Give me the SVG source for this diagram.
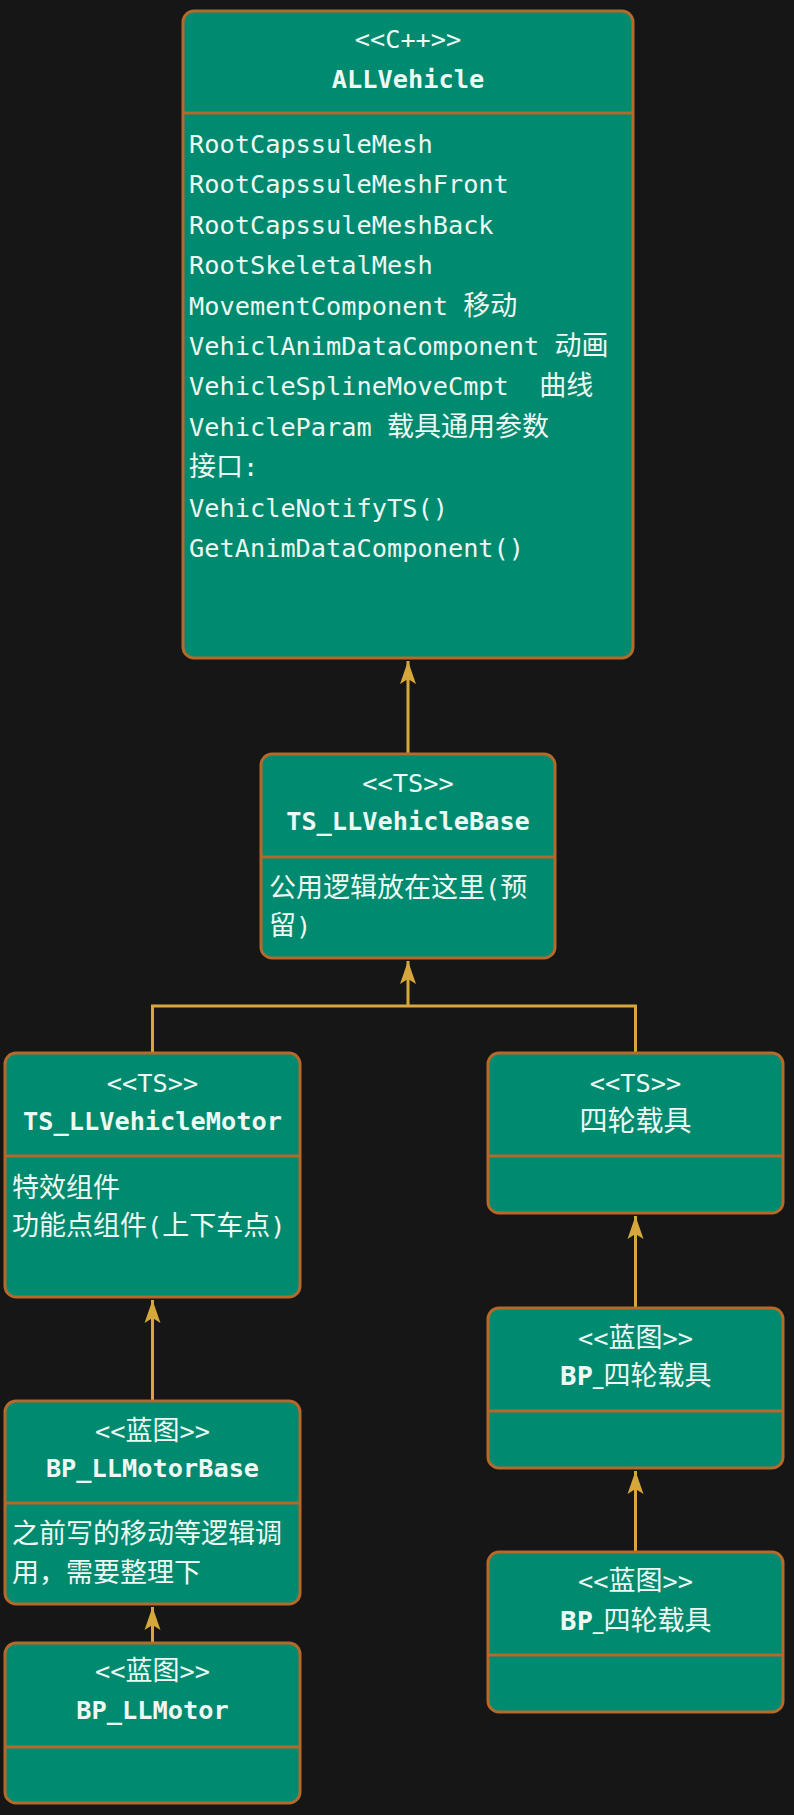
<svg xmlns="http://www.w3.org/2000/svg" width="794" height="1815" viewBox="0 0 794 1815">
<defs>
<style>
.box{fill:#008a70;stroke:#b5692a;stroke-width:3}
.div{stroke:#b5692a;stroke-width:3}
.t{fill:#eef9f3;font-family:"DejaVu Sans Mono","Liberation Mono","Noto Sans CJK SC",monospace;font-size:25.3px}
.c{text-anchor:middle}
.b{font-weight:bold}
.cj{font-family:"Noto Sans CJK SC",sans-serif;font-size:27px;font-weight:normal}
.sb{font-family:"Noto Sans","Liberation Sans",sans-serif;font-weight:bold;font-size:26px}
.ln{fill:none;stroke:#d6a83c;stroke-width:3}
</style>
<marker id="ah" viewBox="-24 -10 26 20" refX="0" refY="0" markerWidth="26" markerHeight="20" markerUnits="userSpaceOnUse" orient="auto">
<path d="M0,0 L-23,-8 L-18,0 L-23,8 Z" fill="#d6a83c"/>
</marker>
</defs>
<rect width="794" height="1815" fill="#161616"/>

<g id="connectors">
<line class="ln" x1="408" y1="754" x2="408" y2="661" marker-end="url(#ah)"/>
<path class="ln" d="M152.5,1053 V1006 H635.5 V1053"/>
<line class="ln" x1="408" y1="1006" x2="408" y2="961" marker-end="url(#ah)"/>
<line class="ln" x1="152.5" y1="1401" x2="152.5" y2="1300" marker-end="url(#ah)"/>
<line class="ln" x1="152.5" y1="1643" x2="152.5" y2="1607" marker-end="url(#ah)"/>
<line class="ln" x1="635.5" y1="1308" x2="635.5" y2="1216" marker-end="url(#ah)"/>
<line class="ln" x1="635.5" y1="1552" x2="635.5" y2="1471" marker-end="url(#ah)"/>
</g>

<g id="ALLVehicle">
<rect class="box" x="183" y="11" width="450" height="647" rx="11"/>
<line class="div" x1="183" y1="113" x2="633" y2="113"/>
<text class="t c" x="408" y="48">&lt;&lt;C++&gt;&gt;</text>
<text class="t c b" x="408" y="88">ALLVehicle</text>
<text class="t" x="189" y="153">RootCapssuleMesh</text>
<text class="t" x="189" y="193.4">RootCapssuleMeshFront</text>
<text class="t" x="189" y="233.8">RootCapssuleMeshBack</text>
<text class="t" x="189" y="274.2">RootSkeletalMesh</text>
<text class="t" x="189" y="314.6">MovementComponent <tspan class="cj">移动</tspan></text>
<text class="t" x="189" y="355">VehiclAnimDataComponent <tspan class="cj">动画</tspan></text>
<text class="t" x="189" y="395.4" xml:space="preserve">VehicleSplineMoveCmpt  <tspan class="cj">曲线</tspan></text>
<text class="t" x="189" y="435.8">VehicleParam <tspan class="cj">载具通用参数</tspan></text>
<text class="t" x="189" y="476.2"><tspan class="cj">接口</tspan>:</text>
<text class="t" x="189" y="516.6">VehicleNotifyTS()</text>
<text class="t" x="189" y="557">GetAnimDataComponent()</text>
</g>

<g id="TS_LLVehicleBase">
<rect class="box" x="261" y="754" width="294" height="204" rx="11"/>
<line class="div" x1="261" y1="857" x2="555" y2="857"/>
<text class="t c" x="408" y="792">&lt;&lt;TS&gt;&gt;</text>
<text class="t c b" x="408" y="830">TS_LLVehicleBase</text>
<text class="t" x="269" y="897"><tspan class="cj">公用逻辑放在这里</tspan>(<tspan class="cj">预</tspan></text>
<text class="t" x="269" y="935"><tspan class="cj">留</tspan>)</text>
</g>

<g id="TS_LLVehicleMotor">
<rect class="box" x="5" y="1053" width="295" height="244" rx="11"/>
<line class="div" x1="5" y1="1156" x2="300" y2="1156"/>
<text class="t c" x="152.5" y="1092">&lt;&lt;TS&gt;&gt;</text>
<text class="t c b" x="152.5" y="1130">TS_LLVehicleMotor</text>
<text class="t" x="12" y="1197"><tspan class="cj">特效组件</tspan></text>
<text class="t" x="12" y="1235"><tspan class="cj">功能点组件</tspan>(<tspan class="cj">上下车点</tspan>)</text>
</g>

<g id="FourWheel">
<rect class="box" x="488" y="1053" width="295" height="160" rx="11"/>
<line class="div" x1="488" y1="1156" x2="783" y2="1156"/>
<text class="t c" x="635.5" y="1092">&lt;&lt;TS&gt;&gt;</text>
<text class="t c" x="635.5" y="1131"><tspan class="cj" style="font-size:28px">四轮载具</tspan></text>
</g>

<g id="BP_LLMotorBase">
<rect class="box" x="5" y="1401" width="295" height="203" rx="11"/>
<line class="div" x1="5" y1="1503" x2="300" y2="1503"/>
<text class="t c" x="152.5" y="1440">&lt;&lt;<tspan class="cj">蓝图</tspan>&gt;&gt;</text>
<text class="t c b" x="152.5" y="1477">BP_LLMotorBase</text>
<text class="t" x="12" y="1543"><tspan class="cj">之前写的移动等逻辑调</tspan></text>
<text class="t" x="12" y="1582"><tspan class="cj">用，需要整理下</tspan></text>
</g>

<g id="BP_LLMotor">
<rect class="box" x="5" y="1643" width="295" height="160" rx="11"/>
<line class="div" x1="5" y1="1747" x2="300" y2="1747"/>
<text class="t c" x="152.5" y="1680">&lt;&lt;<tspan class="cj">蓝图</tspan>&gt;&gt;</text>
<text class="t c b" x="152.5" y="1719">BP_LLMotor</text>
</g>

<g id="BP_FourWheel_1">
<rect class="box" x="488" y="1308" width="295" height="160" rx="11"/>
<line class="div" x1="488" y1="1411" x2="783" y2="1411"/>
<text class="t c" x="635.5" y="1347">&lt;&lt;<tspan class="cj">蓝图</tspan>&gt;&gt;</text>
<text class="t c" x="635.5" y="1385"><tspan class="sb">BP_</tspan><tspan class="cj">四轮载具</tspan></text>
</g>

<g id="BP_FourWheel_2">
<rect class="box" x="488" y="1552" width="295" height="160" rx="11"/>
<line class="div" x1="488" y1="1655" x2="783" y2="1655"/>
<text class="t c" x="635.5" y="1590">&lt;&lt;<tspan class="cj">蓝图</tspan>&gt;&gt;</text>
<text class="t c" x="635.5" y="1630"><tspan class="sb">BP_</tspan><tspan class="cj">四轮载具</tspan></text>
</g>
</svg>
